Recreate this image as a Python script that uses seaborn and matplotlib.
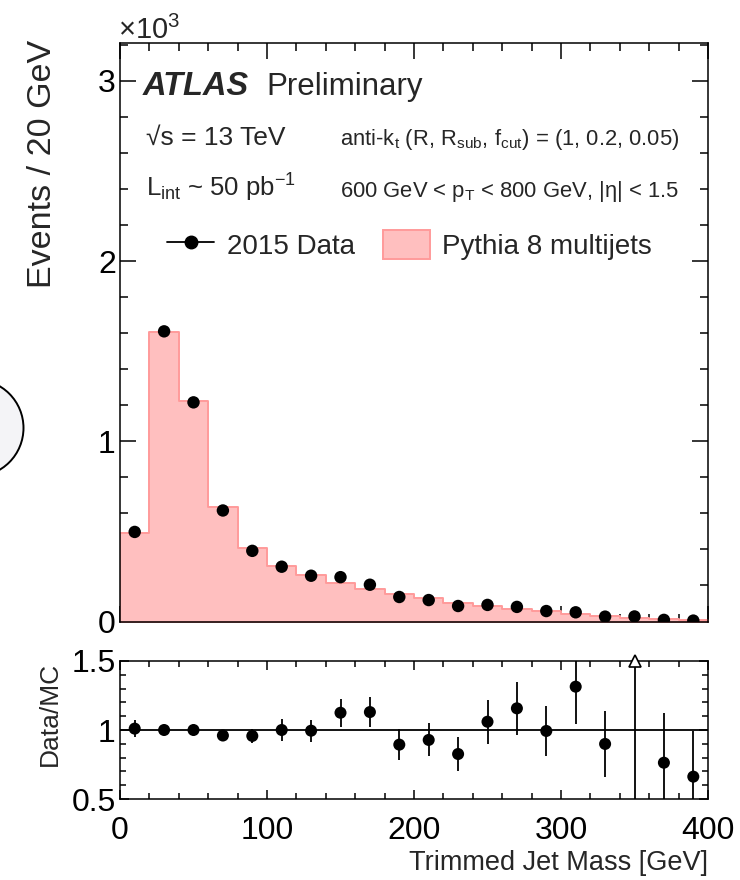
import numpy as np
import pandas as pd
import matplotlib
matplotlib.use("Agg")
import matplotlib.pyplot as plt
import seaborn as sns
from matplotlib.patches import Patch, Ellipse
from matplotlib.lines import Line2D
from matplotlib.ticker import MultipleLocator

# Trimmed jet mass bins, 20 GeV wide
bin_edges = [0, 20, 40, 60, 80, 100, 120, 140, 160, 180, 200,
             220, 240, 260, 280, 300, 320, 340, 360, 380, 400]
bin_centers = [10, 30, 50, 70, 90, 110, 130, 150, 170, 190,
               210, 230, 250, 270, 290, 310, 330, 350, 370, 390]

# Pythia 8 multijets prediction (events / 20 GeV)
mc_events = [492, 1608, 1221, 638, 410, 308, 258, 216, 182, 153,
             129, 104, 86, 71, 58, 40, 31, 17, 12, 8]
# 2015 data (events / 20 GeV) and stat. errors
data_events = [497, 1610, 1216, 616, 392, 304, 254, 246, 204, 136,
               119, 86, 92, 81, 58, 51, 27, 28, 9, 5]
data_err = [28, 24, 20, 22, 19, 25, 21, 22, 20, 17,
            15, 12, 14, 14, 11, 11, 7, 10, 4, 3]

# Data/MC ratio panel
ratio = [1.01, 1.00, 1.00, 0.96, 0.957, 1.00, 0.995, 1.125, 1.13, 0.894,
         0.928, 0.826, 1.06, 1.157, 0.993, 1.314, 0.899, 1.9, 0.763, 0.662]
ratio_err = [0.06, 0.015, 0.015, 0.04, 0.05, 0.08, 0.08, 0.10, 0.11, 0.11,
             0.12, 0.12, 0.16, 0.19, 0.18, 0.27, 0.24, 1.5, 0.36, 0.33]

FILL = "#ffbfbf"
EDGE = "#ff9a9a"

sns.set_theme(style="white")
plt.rcParams["font.family"] = ["Liberation Sans", "DejaVu Sans"]
plt.rcParams["mathtext.fontset"] = "custom"
plt.rcParams["mathtext.rm"] = "Liberation Sans"
plt.rcParams["mathtext.it"] = "Liberation Sans:italic"
plt.rcParams["mathtext.default"] = "regular"
plt.rcParams["axes.linewidth"] = 1.1
plt.rcParams["axes.edgecolor"] = "black"

W, H = 740, 880
fig = plt.figure(figsize=(W / 100, H / 100), dpi=100)


def fx(x):
    return x / W


def fy(y):
    return 1 - y / H


ax = fig.add_axes([fx(120), fy(621.5), (708 - 120) / W, (621.5 - 43) / H])
rax = fig.add_axes([fx(120), fy(799), (708 - 120) / W, (799 - 661) / H])

# main panel
hist_df = pd.DataFrame({"mass": bin_centers, "events": np.array(mc_events) / 1000})
sns.histplot(data=hist_df, x="mass", weights="events", bins=bin_edges,
             element="step", fill=True, facecolor=FILL, edgecolor=EDGE,
             linewidth=1.4, alpha=1, ax=ax, zorder=1)

data_df = pd.DataFrame({"mass": bin_centers,
                        "events": np.array(data_events) / 1000,
                        "err": np.array(data_err) / 1000})
ax.errorbar(data_df["mass"], data_df["events"], yerr=data_df["err"],
            fmt="none", ecolor="black", elinewidth=1.3, zorder=3)
sns.scatterplot(data=data_df, x="mass", y="events", color="black", s=80,
                edgecolor="none", ax=ax, zorder=4)

ax.set_xlim(0, 400)
ax.set_ylim(0, 3.21)
ax.set_xlabel("")
ax.set_ylabel("")
ax.xaxis.set_major_locator(MultipleLocator(100))
ax.xaxis.set_minor_locator(MultipleLocator(20))
ax.yaxis.set_major_locator(MultipleLocator(1))
ax.yaxis.set_minor_locator(MultipleLocator(0.2))
ax.tick_params(which="both", direction="in", top=True, right=True,
               bottom=True, left=True, width=1.1, colors="black")
ax.tick_params(which="major", length=11.5, labelsize=23, pad=3)
ax.tick_params(which="minor", length=6)
ax.tick_params(axis="x", labelbottom=False)

# ratio panel
ratio_df = pd.DataFrame({"mass": bin_centers, "ratio": ratio, "err": ratio_err})
rax.axhline(1, color="black", lw=1.3, zorder=1)
rax.errorbar(ratio_df["mass"], ratio_df["ratio"], yerr=ratio_df["err"],
             fmt="none", ecolor="black", elinewidth=1.3, zorder=3)
inside = ratio_df[ratio_df["ratio"] <= 1.5]
sns.scatterplot(data=inside, x="mass", y="ratio", color="black", s=75,
                edgecolor="none", ax=rax, zorder=4)
over = ratio_df[ratio_df["ratio"] > 1.5]
rax.plot(over["mass"], [1.5] * len(over), marker="^", ls="none", ms=9,
         mfc="white", mec="black", mew=1.2, clip_on=False, zorder=5)

rax.set_xlim(0, 400)
rax.set_ylim(0.5, 1.5)
rax.set_xlabel("")
rax.set_ylabel("")
rax.xaxis.set_major_locator(MultipleLocator(100))
rax.xaxis.set_minor_locator(MultipleLocator(20))
rax.yaxis.set_major_locator(MultipleLocator(0.5))
rax.yaxis.set_minor_locator(MultipleLocator(0.1))
rax.yaxis.set_major_formatter(matplotlib.ticker.FuncFormatter(lambda v, p: f"{v:g}"))
rax.tick_params(which="both", direction="in", top=True, right=True,
                bottom=True, left=True, width=1.1, colors="black")
rax.tick_params(which="major", length=6.5, labelsize=23)
rax.tick_params(which="minor", length=4.5)
rax.tick_params(axis="x", pad=12)
rax.tick_params(axis="y", pad=3)

# labels
fig.text(fx(43), fy(40), "Events / 20 GeV", rotation=90, ha="center",
         va="top", fontsize=24.5)
fig.text(fx(50), fy(662), "Data/MC", rotation=90, ha="center", va="top",
         fontsize=19)
fig.text(fx(708), fy(870), "Trimmed Jet Mass [GeV]", ha="right",
         va="baseline", fontsize=19.5)
fig.text(fx(118), fy(39), r"$\times10^{3}$", ha="left", va="baseline",
         fontsize=21)

fig.text(fx(143), fy(95), "ATLAS", fontsize=23.5, fontweight="bold",
         fontstyle="italic", va="baseline")
fig.text(fx(266), fy(95), "Preliminary", fontsize=22.5, va="baseline")
fig.text(fx(146), fy(145), "\u221As = 13 TeV", fontsize=19, va="baseline")
fig.text(fx(146), fy(197), r"L$_{int}$ ~ 50 pb$^{-1}$", fontsize=18.5,
         va="baseline")
fig.text(fx(340), fy(145),
         r"anti-k$_{t}$ (R, R$_{sub}$, f$_{cut}$) = (1, 0.2, 0.05)",
         fontsize=15.8, va="baseline")
fig.text(fx(340), fy(197),
         r"600 GeV < p$_{T}$ < 800 GeV, |$\eta$| < 1.5",
         fontsize=15.8, va="baseline")

handles = [
    Line2D([], [], color="black", marker="o", ms=9, lw=1.3),
    Patch(facecolor=FILL, edgecolor=EDGE, linewidth=1.4),
]
ax.legend(handles, ["2015 Data", "Pythia 8 multijets"], ncol=2,
          loc="center left", frameon=False, fontsize=20,
          handlelength=1.7, handleheight=1.25, handletextpad=0.45,
          columnspacing=1.0, borderaxespad=0, borderpad=0,
          bbox_to_anchor=(47 / 588, (621.5 - 245) / 578.5),
          bbox_transform=ax.transAxes)

# partially visible logo at the left edge
fig.patches.append(Ellipse((fx(-25), fy(428)), 2 * 48.5 / W, 2 * 48.5 / H,
                           transform=fig.transFigure, facecolor="#f4f4f7",
                           edgecolor="black", lw=1.4))

fig.savefig("out.png", dpi=100)
